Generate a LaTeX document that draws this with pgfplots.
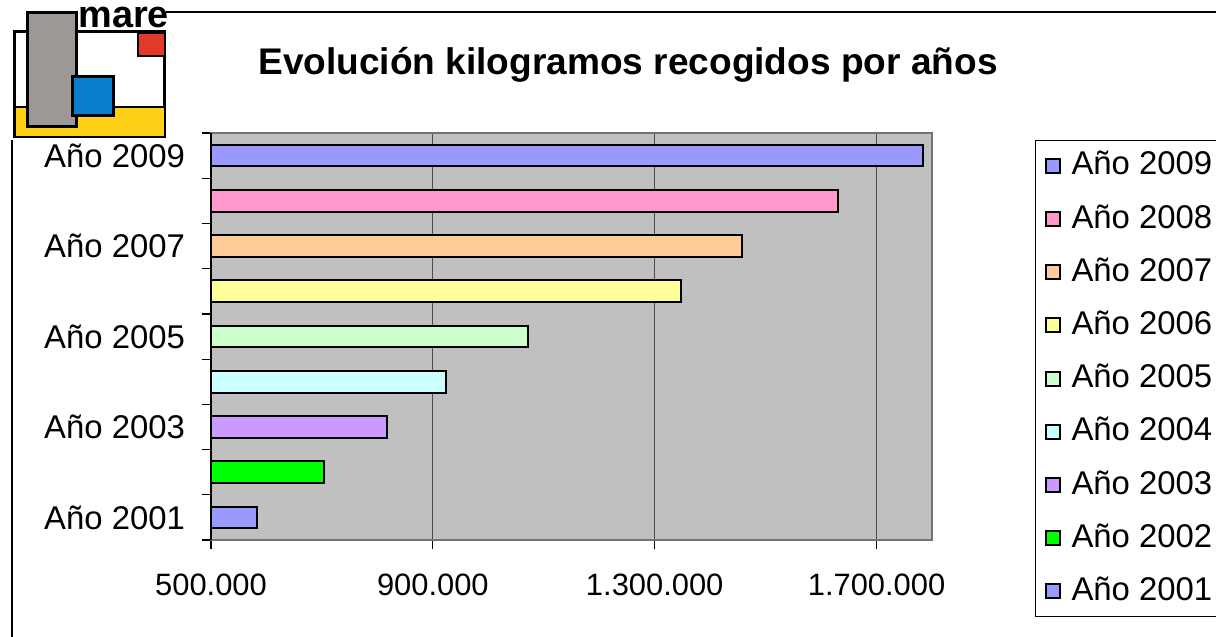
\documentclass[border=0pt]{standalone}
\usepackage{fontspec}
\setmainfont{Liberation Sans}
\usepackage{pgfplots}
\pgfplotsset{compat=1.18}
\definecolor{cA}{HTML}{9999FF}
\definecolor{cB}{HTML}{FF99CC}
\definecolor{cC}{HTML}{FFCC99}
\definecolor{cD}{HTML}{FFFF99}
\definecolor{cE}{HTML}{CCFFCC}
\definecolor{cF}{HTML}{CCFFFF}
\definecolor{cG}{HTML}{CC99FF}
\definecolor{cH}{HTML}{00FF00}
\definecolor{cI}{HTML}{9999FF}
\definecolor{plotbg}{HTML}{C0C0C0}
\definecolor{logogray}{HTML}{9C9896}
\definecolor{logoblue}{HTML}{0A7ECB}
\definecolor{logored}{HTML}{E23A2A}
\definecolor{logoyellow}{HTML}{FFD116}
\begin{document}
\begin{tikzpicture}
\path[use as bounding box] (0,0) rectangle (608bp,318.5bp);
\begin{scope}[x=0.5bp,y=-0.5bp,yshift=318.5bp]
\draw[black,line width=0.75bp] (12,12) rectangle (1240,660);
\end{scope}
\node[anchor=base,font=\fontsize{18.6}{22}\selectfont\bfseries] at (314bp,281bp) {Evolución kilogramos recogidos por años};
\begin{axis}[
  at={(105.5bp,48.5bp)}, anchor=south west,
  scale only axis, width=360.5bp, height=203.5bp,
  xbar, bar width=0.48, bar shift=0pt,
  xmin=500000, xmax=1800000, ymin=0.5, ymax=9.5,
  axis background/.style={fill=plotbg},
  axis line style={draw=black!55, line width=0.6bp},
  xtick={500000,900000,1300000,1700000},
  xticklabels={500.000,900.000,1.300.000,1.700.000},
  scaled x ticks=false,
  ytick={0.5,1.5,...,9.5}, yticklabels={},
  extra y ticks={1,3,5,7,9},
  extra y tick labels={Año 2001,Año 2003,Año 2005,Año 2007,Año 2009},
  extra y tick style={major tick length=0pt, grid=none},
  xmajorgrids, grid style={black!70, line width=0.5bp},
  tick align=outside, major tick length=4.5bp,
  xtick pos=bottom, ytick pos=left,
  tick style={black, line width=0.6bp},
  xticklabel style={font=\fontsize{15.5}{18}\selectfont, yshift=-9bp},
  yticklabel style={font=\fontsize{16.5}{19}\selectfont, xshift=-9.5bp},
  legend style={at={(1.1429,0.982)}, anchor=north west, draw=black, line width=0.5bp,
    font=\fontsize{16.5}{19}\selectfont, row sep=9.6bp, inner sep=4bp,
    nodes={inner sep=1bp, text height=12bp, text depth=3bp},
    cells={anchor=west}},
  legend image code/.code={\path[draw=none,fill=none] (0bp,0bp) -- (13bp,0bp);\draw[#1,line width=1bp] (1bp,-3.5bp) rectangle (8bp,3.5bp);},
  after end axis/.code={\draw[black,line width=0.7bp] (rel axis cs:0,0) -- (rel axis cs:0,1);},
]
\addplot[fill=cA, draw=black, line width=1bp] coordinates {(1783000,9)};
\addlegendentry{Año 2009}
\addplot[fill=cB, draw=black, line width=1bp] coordinates {(1631000,8)};
\addlegendentry{Año 2008}
\addplot[fill=cC, draw=black, line width=1bp] coordinates {(1457000,7)};
\addlegendentry{Año 2007}
\addplot[fill=cD, draw=black, line width=1bp] coordinates {(1347000,6)};
\addlegendentry{Año 2006}
\addplot[fill=cE, draw=black, line width=1bp] coordinates {(1071000,5)};
\addlegendentry{Año 2005}
\addplot[fill=cF, draw=black, line width=1bp] coordinates {(923000,4)};
\addlegendentry{Año 2004}
\addplot[fill=cG, draw=black, line width=1bp] coordinates {(818000,3)};
\addlegendentry{Año 2003}
\addplot[fill=cH, draw=black, line width=1bp] coordinates {(704000,2)};
\addlegendentry{Año 2002}
\addplot[fill=cI, draw=black, line width=1bp] coordinates {(583000,1)};
\addlegendentry{Año 2001}
\end{axis}
\begin{scope}[x=0.5bp,y=-0.5bp,yshift=318.5bp]
\fill[white] (0,0) rectangle (170,140);
\draw[black,line width=1.5bp,fill=white] (15,32) rectangle (165,137);
\draw[black,line width=1.2bp,fill=logoyellow] (15,107) rectangle (165,137);
\draw[black,line width=1.2bp,fill=logored] (138,33) rectangle (165,56);
\draw[black,line width=1.5bp,fill=logogray] (28,13) rectangle (77,127);
\draw[black,line width=1.5bp,fill=logoblue] (73,77) rectangle (114,116);
\node[anchor=base west,inner sep=0pt,font=\fontsize{19}{22}\selectfont\bfseries] at (78,28) {mare};
\draw[black,line width=0.75bp] (166,12) -- (1240,12);
\end{scope}
\end{tikzpicture}
\end{document}
